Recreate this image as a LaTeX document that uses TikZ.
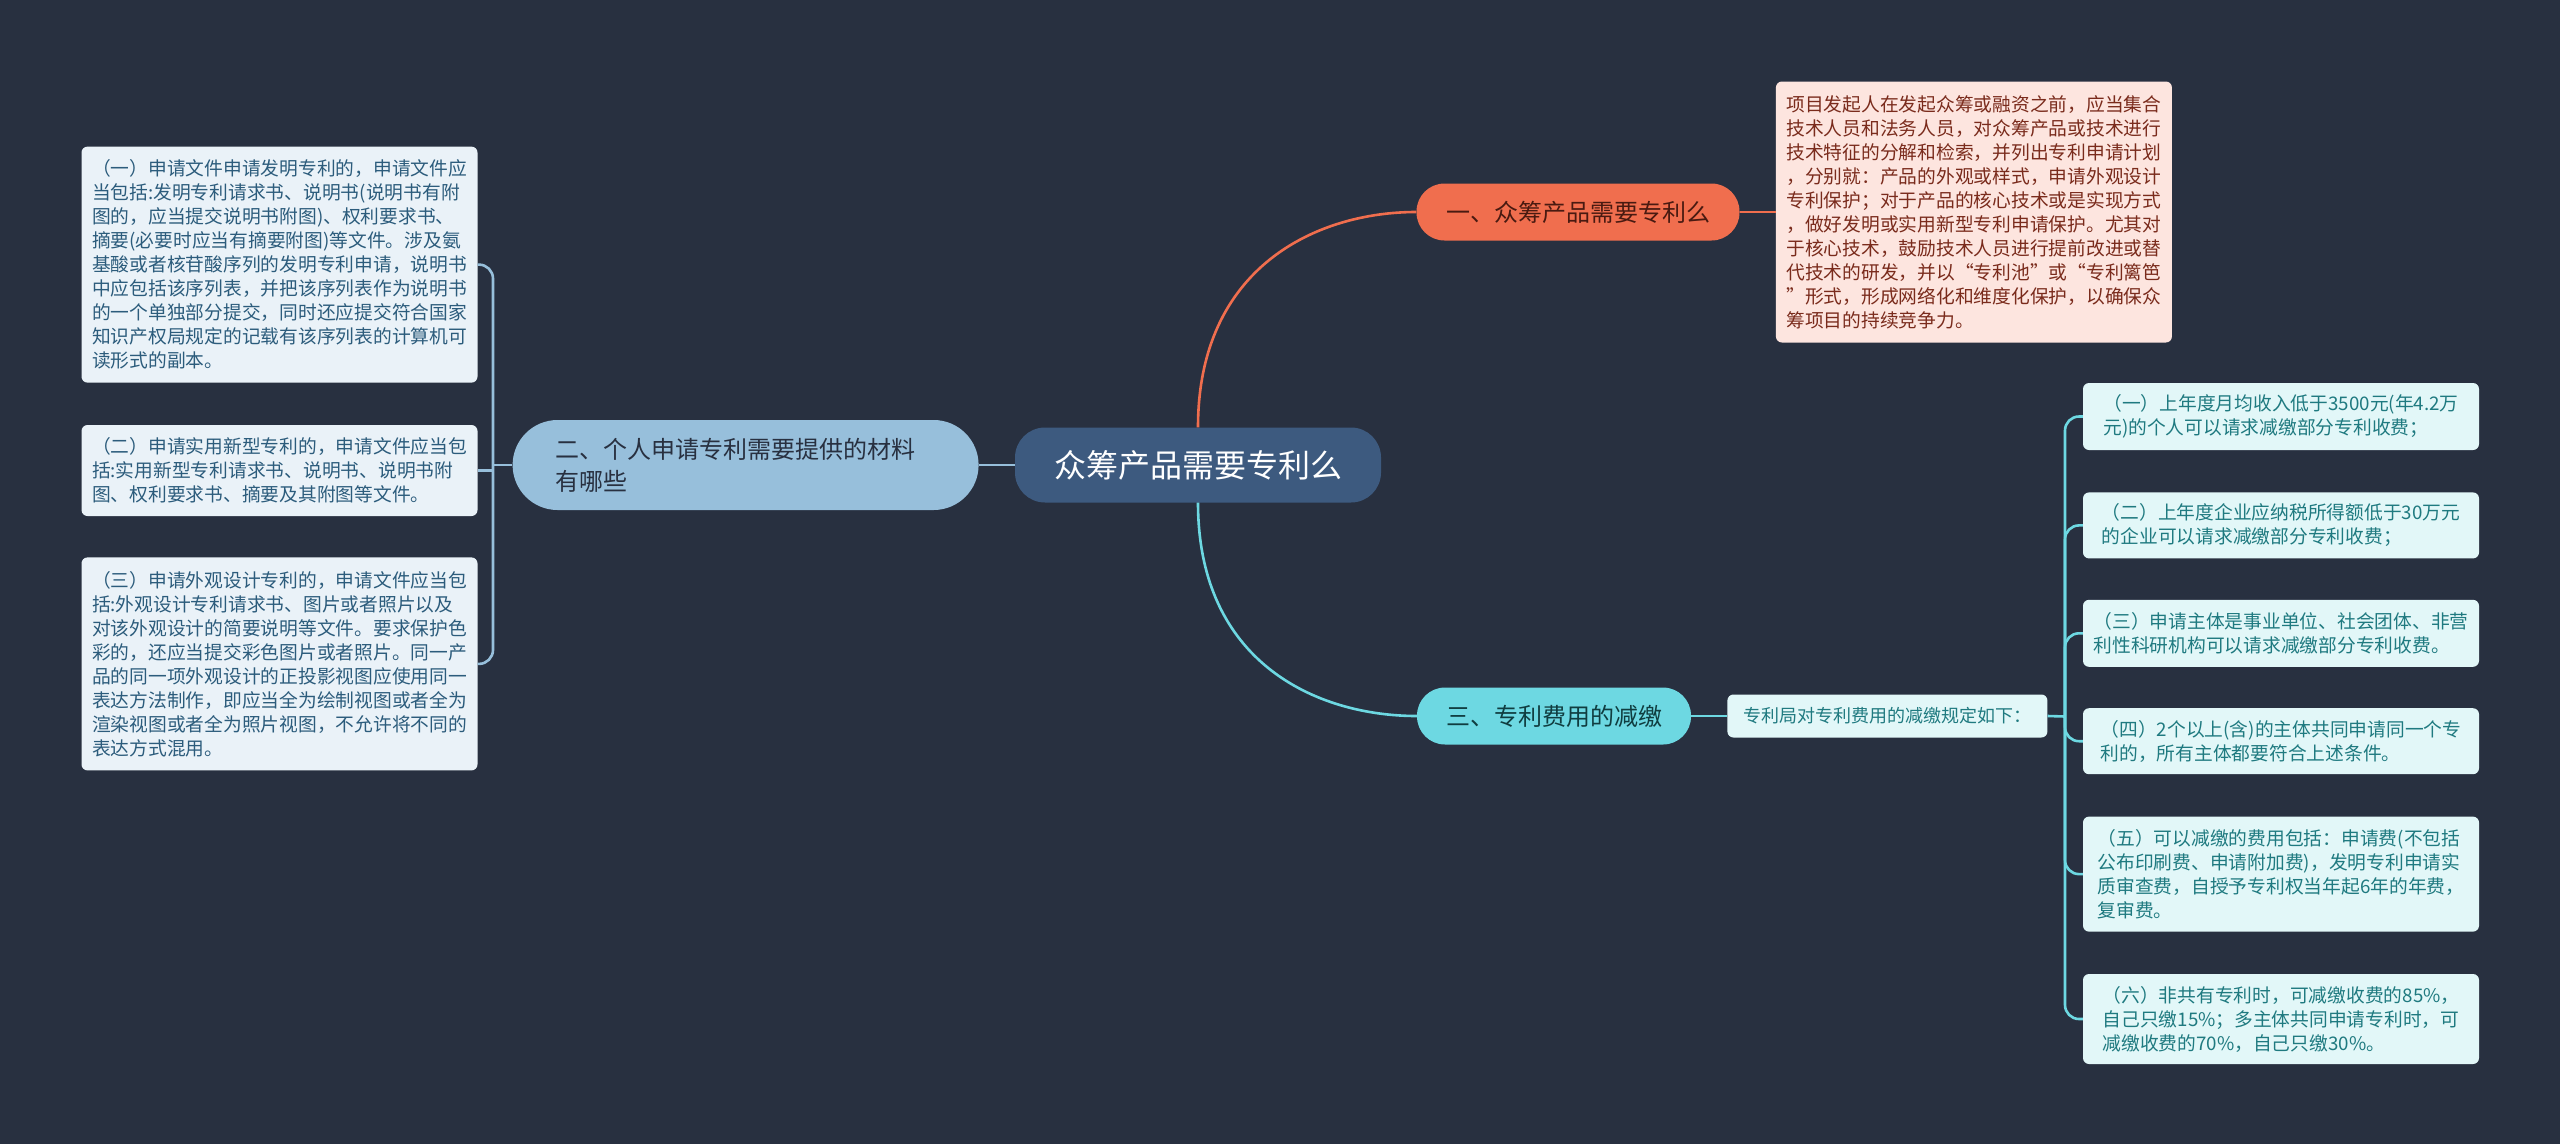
\documentclass[tikz,border=0pt]{standalone}
\usepackage{fontspec}
\setmainfont{Noto Sans CJK SC}
\usetikzlibrary{positioning}

\definecolor{bgc}{HTML}{283040}
\definecolor{rootc}{HTML}{3D5A7F}
\definecolor{orc}{HTML}{F06E4E}
\definecolor{orbox}{HTML}{FDE5DF}
\definecolor{ortext}{HTML}{7A2B1C}
\definecolor{blc}{HTML}{97BFDB}
\definecolor{blbox}{HTML}{EAF2F8}
\definecolor{bltext}{HTML}{2C5C7C}
\definecolor{cyc}{HTML}{6DD8E2}
\definecolor{cybox}{HTML}{E2F7F8}
\definecolor{cytext}{HTML}{1F7A80}

\begin{document}
\begin{tikzpicture}[
  x=1pt, y=-1pt,
  root/.style={fill=rootc, text=white, rounded corners=30pt, minimum width=366pt, minimum height=75pt, inner sep=0pt, font=\fontsize{32}{40}\selectfont},
  topic/.style={rounded corners=28pt, minimum height=57pt, inner sep=0pt, font=\fontsize{24}{32}\selectfont},
  leaf/.style={rounded corners=6pt, minimum width=396pt, inner xsep=0pt, inner ysep=4pt, align=left, font=\fontsize{18.75}{24}\selectfont},
  orleaf/.style={leaf, fill=orbox, text=ortext},
  blleaf/.style={leaf, fill=blbox, text=bltext},
  cyleaf/.style={leaf, fill=cybox, text=cytext},
  link/.style={line width=2.6pt}
]
\fill[bgc] (0,0) rectangle (2560,1144);
\useasboundingbox (0,0) rectangle (2560,1144);

% centre and main topics
\node[root] (c) at (1198,465) {众筹产品需要专利么};
\node[topic, fill=orc, text=ortext!60!black, minimum width=323pt] (b1) at (1578,212) {一、众筹产品需要专利么};
\node[topic, fill=cyc, text=cytext!50!black, minimum width=274pt] (b3) at (1554,716) {三、专利费用的减缴};
\node[topic, fill=blc, text=bgc, rounded corners=45pt, minimum height=90pt, text width=380pt, inner xsep=43pt, align=left, left=36pt of c] (b2) {二、个人申请专利需要提供的材料\\有哪些};

% branch one
\node[orleaf, minimum height=261pt, right=36pt of b1] (d1) {项目发起人在发起众筹或融资之前，应当集合\\
技术人员和法务人员，对众筹产品或技术进行\\
技术特征的分解和检索，并列出专利申请计划\\
，分别就：产品的外观或样式，申请外观设计\\
专利保护；对于产品的核心技术或是实现方式\\
，做好发明或实用新型专利申请保护。尤其对\\
于核心技术，鼓励技术人员进行提前改进或替\\
代技术的研发，并以“专利池”或“专利篱笆\\
”形式，形成网络化和维度化保护，以确保众\\
筹项目的持续竞争力。};

% branch two
\node[blleaf, minimum height=91pt] (l2) at (279.5,470.5) {（二）申请实用新型专利的，申请文件应当包\\
括:实用新型专利请求书、说明书、说明书附\\
图、权利要求书、摘要及其附图等文件。};
\node[blleaf, minimum height=236pt, above=42pt of l2] (l1) {（一）申请文件申请发明专利的，申请文件应\\
当包括:发明专利请求书、说明书(说明书有附\\
图的，应当提交说明书附图)、权利要求书、\\
摘要(必要时应当有摘要附图)等文件。涉及氨\\
基酸或者核苷酸序列的发明专利申请，说明书\\
中应包括该序列表，并把该序列表作为说明书\\
的一个单独部分提交，同时还应提交符合国家\\
知识产权局规定的记载有该序列表的计算机可\\
读形式的副本。};
\node[blleaf, minimum height=213pt, below=41pt of l2] (l3) {（三）申请外观设计专利的，申请文件应当包\\
括:外观设计专利请求书、图片或者照片以及\\
对该外观设计的简要说明等文件。要求保护色\\
彩的，还应当提交彩色图片或者照片。同一产\\
品的同一项外观设计的正投影视图应使用同一\\
表达方法制作，即应当全为绘制视图或者全为\\
渲染视图或者全为照片视图，不允许将不同的\\
表达方式混用。};

% branch three
\node[cyleaf, minimum width=320pt, minimum height=43pt, font=\fontsize{18}{24}\selectfont, right=36pt of b3] (s) {专利局对专利费用的减缴规定如下：};
\node[cyleaf, minimum height=67pt] (r1) at (2281,416.5) {（一）上年度月均收入低于3500元(年4.2万\\
元)的个人可以请求减缴部分专利收费；};
\node[cyleaf, minimum height=66pt, below=42pt of r1] (r2) {（二）上年度企业应纳税所得额低于30万元\\
的企业可以请求减缴部分专利收费；};
\node[cyleaf, minimum height=67pt, below=41pt of r2] (r3) {（三）申请主体是事业单位、社会团体、非营\\
利性科研机构可以请求减缴部分专利收费。};
\node[cyleaf, minimum height=66pt, below=41pt of r3] (r4) {（四）2个以上(含)的主体共同申请同一个专\\
利的，所有主体都要符合上述条件。};
\node[cyleaf, minimum height=115pt, below=42pt of r4] (r5) {（五）可以减缴的费用包括：申请费(不包括\\
公布印刷费、申请附加费)，发明专利申请实\\
质审查费，自授予专利权当年起6年的年费，\\
复审费。};
\node[cyleaf, minimum height=90pt, below=42pt of r5] (r6) {（六）非共有专利时，可减缴收费的85\%，\\
自己只缴15\%；多主体共同申请专利时，可\\
减缴收费的70\%，自己只缴30\%。};

\coordinate (lj) at (493,465);
\coordinate (rj) at (2065,716.5);

% connectors
\draw[link, orc] (c.north) .. controls +(0,-160) and +(-100,0) .. (b1.west);
\draw[link, orc] (b1.east) -- (d1.west);
\draw[link, cyc] (c.south) .. controls +(0,160) and +(-100,0) .. (b3.west);
\draw[link, cyc] (b3.east) -- (s.west);
\draw[link, blc] (c.west) -- (b2.east);
\draw[link, blc] (b2.west) -- (lj);
\draw[link, blc, rounded corners=14pt] (l1.east) -| (lj) |- (l3.east);
\draw[link, blc] (l2.east) -- (l2.east -| lj);
\draw[link, cyc] (s.east) -- (rj);
\draw[link, cyc, rounded corners=14pt] (r1.west) -| (rj) |- (r6.west);
\draw[link, cyc, rounded corners=14pt] (rj) |- (r2.west);
\draw[link, cyc, rounded corners=14pt] (rj) |- (r3.west);
\draw[link, cyc, rounded corners=14pt] (rj) |- (r4.west);
\draw[link, cyc, rounded corners=14pt] (rj) |- (r5.west);
\end{tikzpicture}
\end{document}
